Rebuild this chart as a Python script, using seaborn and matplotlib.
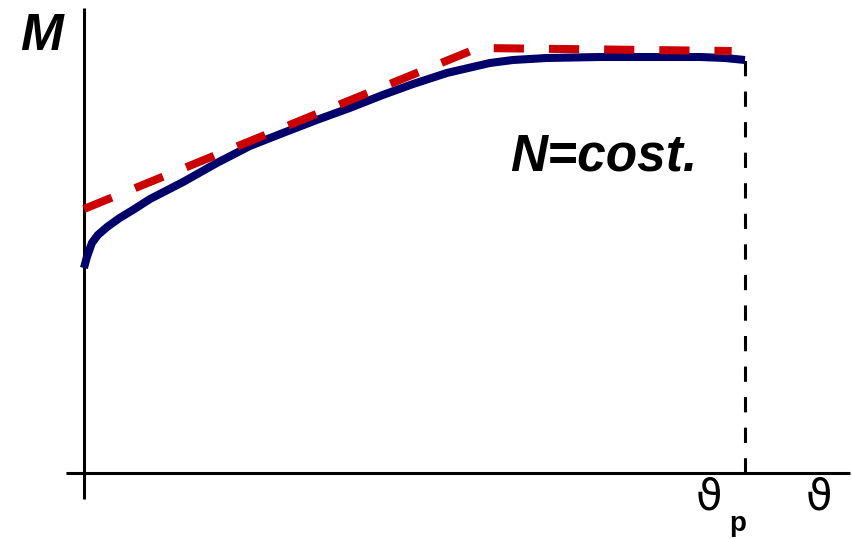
import matplotlib
matplotlib.use("Agg")
import matplotlib.pyplot as plt
import seaborn as sns
import pandas as pd

# Rotation (normalised to the plastic rotation theta_p) and bending moment
theta_curve = [0.0, 0.0045, 0.012, 0.021, 0.035, 0.054, 0.074, 0.100, 0.150,
               0.201, 0.251, 0.301, 0.352, 0.402, 0.452, 0.498, 0.549, 0.588,
               0.614, 0.649, 0.700, 0.781, 0.860, 0.932, 0.970, 1.0]
moment_curve = [2.05, 2.16, 2.30, 2.38, 2.46, 2.55, 2.63, 2.74, 2.91,
                3.10, 3.27, 3.40, 3.53, 3.65, 3.78, 3.89, 4.00, 4.06,
                4.10, 4.13, 4.15, 4.16, 4.16, 4.16, 4.15, 4.13]

# Bilinear idealisation
theta_bilin = [0.0, 0.596, 0.98]
moment_bilin = [2.64, 4.25, 4.22]

theta_p = 1.0
axis_label_x = "ϑ"
axis_label_y = "M"
curve_note = "N=cost."

sns.set_theme(style="white")
plt.rcParams["font.family"] = ["Liberation Sans", "DejaVu Sans"]
plt.rcParams["text.color"] = "black"

fig = plt.figure(figsize=(8.52, 5.39), dpi=100)
ax = fig.add_axes([0, 0, 1, 1])
ax.set_xlim(-0.127, 1.162)
ax.set_ylim(-0.66, 4.73)
ax.axis("off")

df_curve = pd.DataFrame({"theta": theta_curve, "M": moment_curve})
df_bilin = pd.DataFrame({"theta": theta_bilin, "M": moment_bilin})

# Axes lines
ax.plot([0, 0], [-0.26, 4.65], color="black", lw=2.2, solid_capstyle="butt")
ax.plot([-0.027, 1.159], [0, 0], color="black", lw=2.2, solid_capstyle="butt")

# Vertical marker at theta_p
ax.plot([theta_p, theta_p], [0, 4.13], color="black", lw=2.2,
        dashes=(5.0, 5.0), dash_capstyle="butt")

sns.lineplot(data=df_curve, x="theta", y="M", ax=ax, color="#00006b",
             lw=5.8, sort=False, estimator=None, solid_capstyle="butt",
             solid_joinstyle="round")
line = sns.lineplot(data=df_bilin, x="theta", y="M", ax=ax, color="#cc0000",
                    lw=5.8, sort=False, estimator=None).lines[-1]
line.set_dashes((3.75, 3.1))
line.set_dash_capstyle("butt")

ax.text(-0.065, 4.37, axis_label_y, fontsize=37, fontweight="bold",
        fontstyle="italic", ha="center", va="center", color="black")
ax.text(0.6445, 3.03, curve_note, fontsize=37, fontweight="bold",
        fontstyle="italic", ha="left", va="baseline", color="black")
ax.text(1.112, -0.37, axis_label_x, fontsize=31, ha="center", va="baseline",
        family=["DejaVu Sans"], color="black")
ax.text(0.9455, -0.37, axis_label_x, fontsize=31, ha="center", va="baseline",
        family=["DejaVu Sans"], color="black")
ax.text(0.977, -0.58, "p", fontsize=20, fontweight="bold", ha="left",
        va="baseline", color="black")

fig.savefig("out.png", dpi=100)
